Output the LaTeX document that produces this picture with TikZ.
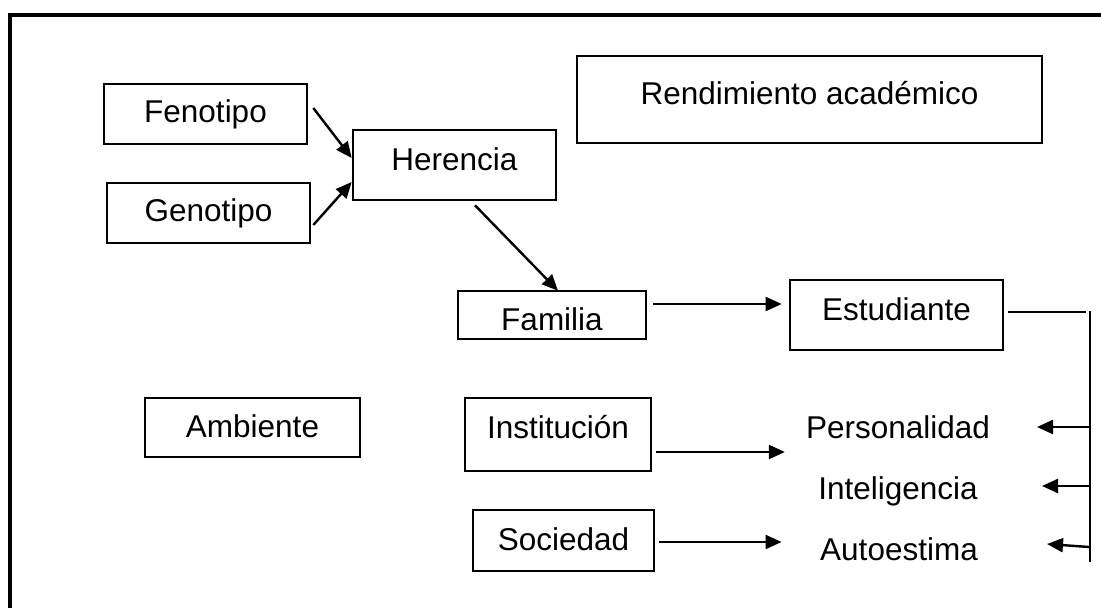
\documentclass[tikz,border=0pt]{standalone}
\usepackage{fontspec}
\setmainfont{Liberation Sans}
\usetikzlibrary{arrows.meta}
\begin{document}
\begin{tikzpicture}[x=1pt,y=-1pt,
  txt/.style={inner sep=0pt, font=\fontsize{31.5pt}{36pt}\selectfont, text height=22pt, text depth=6pt},
  box/.style={txt, draw, line width=2.6pt},
  lbl/.style={txt, anchor=base},
  arr/.style={line width=2.4pt, -{Triangle[length=16pt,width=14pt]}},
  thinline/.style={line width=1.5pt}]
\useasboundingbox (0,0) rectangle (1101,608);
% outer frame
\draw[line width=4.5pt] (10,612) -- (10,15) -- (1105,15);
% boxes
\node[box, minimum width=203pt, minimum height=60pt] (fen) at (205.5,114) {Fenotipo};
\node[box, minimum width=203pt, minimum height=60pt] (gen) at (208.5,213) {Genotipo};
\node[box, minimum width=203pt, minimum height=70pt, text depth=12pt] (her) at (454.5,165) {Herencia};
\node[box, minimum width=465pt, minimum height=87pt, text depth=13pt] (ren) at (809.5,99.5) {Rendimiento académico};
\node[box, minimum width=188pt, minimum height=48pt, text height=36pt] (fam) at (552,315) {Familia};
\node[box, minimum width=213pt, minimum height=70pt, text depth=12pt] (est) at (896.5,315) {Estudiante};
\node[box, minimum width=215pt, minimum height=59pt, text height=26pt] (amb) at (252.5,427.5) {Ambiente};
\node[box, minimum width=186pt, minimum height=73pt, text depth=15pt] (ins) at (558,434.5) {Institución};
\node[box, minimum width=181pt, minimum height=61pt, text height=25pt] (soc) at (563.5,540.5) {Sociedad};
% plain labels
\node[lbl] (per) at (898,438) {Personalidad};
\node[lbl] (int) at (898,499) {Inteligencia};
\node[lbl] (aut) at (899,560) {Autoestima};
% connectors
\draw[arr] ([xshift=5pt,yshift=6pt]fen.east) -- ([yshift=7pt]her.west);
\draw[arr] ([xshift=2pt,yshift=-12pt]gen.east) -- ([yshift=-17pt]her.west);
\draw[arr] ([xshift=20.5pt,yshift=-4pt]her.south) -- ([xshift=6pt,yshift=-1pt]fam.north);
\draw[arr] ([xshift=6pt,yshift=11pt]fam.east) -- ([xshift=-7pt,yshift=11pt]est.west);
\draw[arr] ([xshift=4pt,yshift=-17.5pt]ins.east) -- ([xshift=-21pt,yshift=-22pt]per.west);
\draw[arr] ([xshift=4pt,yshift=-1.5pt]soc.east) -- ([xshift=-38.5pt,yshift=10pt]aut.west);
% bracket from Estudiante
\coordinate (e1) at (1086,312);
\coordinate (vt) at (1090,311);
\coordinate (vb) at (1090,562);
\draw[thinline] ([xshift=4pt,yshift=3pt]est.east) -- (e1);
\draw[thinline] (vt) -- (vb);
\coordinate (p1) at (1089,427);
\coordinate (p1t) at (1037,427);
\coordinate (p2) at (1089,486);
\coordinate (p2t) at (1042,486);
\coordinate (p3) at (1089,547);
\coordinate (p3t) at (1047,544);
\draw[arr] (p1) -- (p1t);
\draw[arr] (p2) -- (p2t);
\draw[arr] (p3) -- (p3t);
\end{tikzpicture}
\end{document}
